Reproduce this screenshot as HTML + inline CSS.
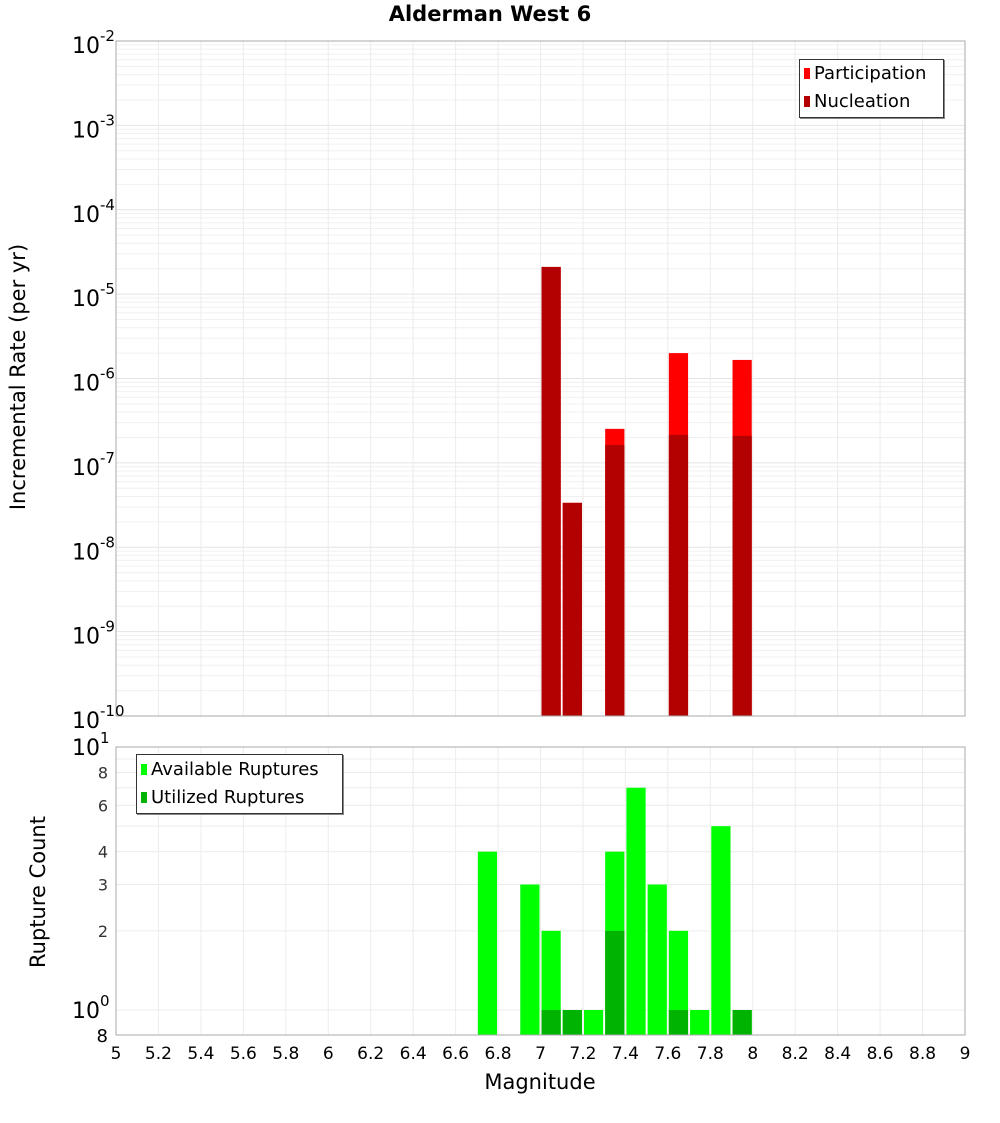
<!DOCTYPE html>
<html><head><meta charset="utf-8"><style>
body{margin:0;background:#fff;}
svg{font-family:"DejaVu Sans","Liberation Sans",sans-serif;}
</style></head><body>
<svg id="c" width="1000" height="1100" xmlns="http://www.w3.org/2000/svg"></svg>
<script>
const mags = [6.75,6.95,7.05,7.15,7.25,7.35,7.45,7.55,7.65,7.75,7.85,7.95];
const available = [4,3,2,1,1,4,7,3,2,1,5,1];
const utilized = [0,0,1,1,0,2,0,0,1,0,0,1];
const rateMags = [7.05,7.15,7.35,7.65,7.95];
const participation = [2.1e-5,3.36e-8,2.53e-7,2.0e-6,1.66e-6];
const nucleation = [2.1e-5,3.36e-8,1.63e-7,2.15e-7,2.09e-7];
const xTicks = [5,5.2,5.4,5.6,5.8,6,6.2,6.4,6.6,6.8,7,7.2,7.4,7.6,7.8,8,8.2,8.4,8.6,8.8,9];
const topExps = [-2,-3,-4,-5,-6,-7,-8,-9,-10];
const botTicks = [2,3,4,6,8];

const S="http://www.w3.org/2000/svg", svg=document.getElementById('c');
function el(t,a,p){const e=document.createElementNS(S,t);for(const k in a)e.setAttribute(k,a[k]);(p||svg).appendChild(e);return e;}
const X0=116,X1=965;
const x=m=>X0+(m-5)/4*(X1-X0);
const T0=41,T1=716;
const yt=v=>T0+(-2-Math.log10(v))/8*(T1-T0);
const B0=747,B1=1035;
const yb=v=>1010-Math.log10(v)*263;

// top panel
const gt=el('g',{});

el('rect',{x:X0,y:T0,width:X1-X0,height:T1-T0,fill:'#fff'},gt);
for(let e=-10;e<-2;e++)for(let k=2;k<=9;k++){const yy=yt(k*Math.pow(10,e));el('line',{x1:X0,x2:X1,y1:yy,y2:yy,stroke:'#f0f0f0'},gt);}
topExps.forEach(e=>{const yy=yt(Math.pow(10,e));el('line',{x1:X0,x2:X1,y1:yy,y2:yy,stroke:'#e4e4e4'},gt);});
xTicks.forEach(m=>{el('line',{x1:x(m),x2:x(m),y1:T0,y2:T1,stroke:'#ececec'},gt);el('line',{x1:x(m),x2:x(m),y1:B0,y2:B1,stroke:'#ececec'});});
rateMags.forEach((m,i)=>{
 const r=el('rect',{x:x(m-0.05)+1,y:yt(participation[i]),width:x(m+0.05)-x(m-0.05)-2,height:T1-yt(participation[i]),fill:'#ff0000'},gt);
 
 const n=el('rect',{x:x(m-0.05)+1,y:yt(nucleation[i]),width:x(m+0.05)-x(m-0.05)-2,height:T1-yt(nucleation[i]),fill:'#b30000'},gt);
 
});
el('rect',{x:X0,y:T0,width:X1-X0,height:T1-T0,fill:'none',stroke:'#aaa'},gt);
topExps.forEach(e=>{const yy=yt(Math.pow(10,e));
 const t=el('text',{x:72,y:yy+12,'font-size':22});
 t.textContent='10';const s=el('tspan',{dy:-12,'font-size':15},t);s.textContent=String(e);});
// bottom panel
const gb=el('g',{});

for(let k=1;k<=10;k++){const yy=yb(k);el('line',{x1:X0,x2:X1,y1:yy,y2:yy,stroke:'#ececec'},gb);}
mags.forEach((m,i)=>{
 const w=x(m+0.05)-x(m-0.05)-2;
 const a=el('rect',{x:x(m-0.05)+1,y:yb(available[i]),width:w,height:B1-yb(available[i]),fill:'#00ff00'},gb);
 
 if(utilized[i]>0){const u=el('rect',{x:x(m-0.05)+1,y:yb(utilized[i]),width:w,height:B1-yb(utilized[i]),fill:'#00b300'},gb);
 }
});
el('rect',{x:X0,y:B0,width:X1-X0,height:B1-B0,fill:'none',stroke:'#aaa'},gb);
botTicks.forEach(v=>{const t=el('text',{x:108,y:yb(v)+6,'font-size':16,'text-anchor':'end',fill:'#333'});t.textContent=v;});
[[1,747],[0,1010]].forEach(([e,yy])=>{const t=el('text',{x:72,y:yy+8,'font-size':22});t.textContent='10';const s=el('tspan',{dy:-12,'font-size':15},t);s.textContent=e;});
{const t=el('text',{x:108,y:1042,'font-size':18,'text-anchor':'end'});t.textContent='8';}
xTicks.forEach(m=>{const t=el('text',{x:x(m),y:1059,'font-size':17,'text-anchor':'middle'});t.textContent=String(m);});
</script>
<svg width="0" height="0"></svg>
<div style="position:absolute;left:0;top:0;width:1000px;height:1100px;pointer-events:none;font-family:'DejaVu Sans','Liberation Sans',sans-serif;">
<div style="position:absolute;left:0;width:1000px;top:2px;text-align:center;font-weight:bold;font-size:21px;padding-left:0;"><span style="position:relative;left:-10px">Alderman West 6</span></div>
<div style="position:absolute;left:-172px;top:365px;width:380px;text-align:center;transform:rotate(-90deg);font-size:21px;">Incremental Rate (per yr)</div>
<div style="position:absolute;left:-62px;top:880px;width:200px;text-align:center;transform:rotate(-90deg);font-size:21px;">Rupture Count</div>
<div style="position:absolute;left:440px;top:1070px;width:200px;text-align:center;font-size:21px;">Magnitude</div>
<div style="position:absolute;left:799px;top:59px;width:143px;height:57px;border:1px solid #333;background:#fff;font-size:18px;box-shadow:1px 1px 0 #888;">
 <div style="position:absolute;left:4px;top:3px;"><span style="display:inline-block;width:6px;height:11px;background:#f00;margin-right:4px"></span>Participation</div>
 <div style="position:absolute;left:4px;top:31px;"><span style="display:inline-block;width:6px;height:11px;background:#b30000;margin-right:4px"></span>Nucleation</div>
</div>
<div style="position:absolute;left:136px;top:754px;width:205px;height:58px;border:1px solid #333;background:#fff;font-size:18px;box-shadow:1px 1px 0 #888;">
 <div style="position:absolute;left:4px;top:4px;"><span style="display:inline-block;width:6px;height:11px;background:#0f0;margin-right:4px"></span>Available Ruptures</div>
 <div style="position:absolute;left:4px;top:32px;"><span style="display:inline-block;width:6px;height:11px;background:#00b300;margin-right:4px"></span>Utilized Ruptures</div>
</div>
</div>
</body></html>
